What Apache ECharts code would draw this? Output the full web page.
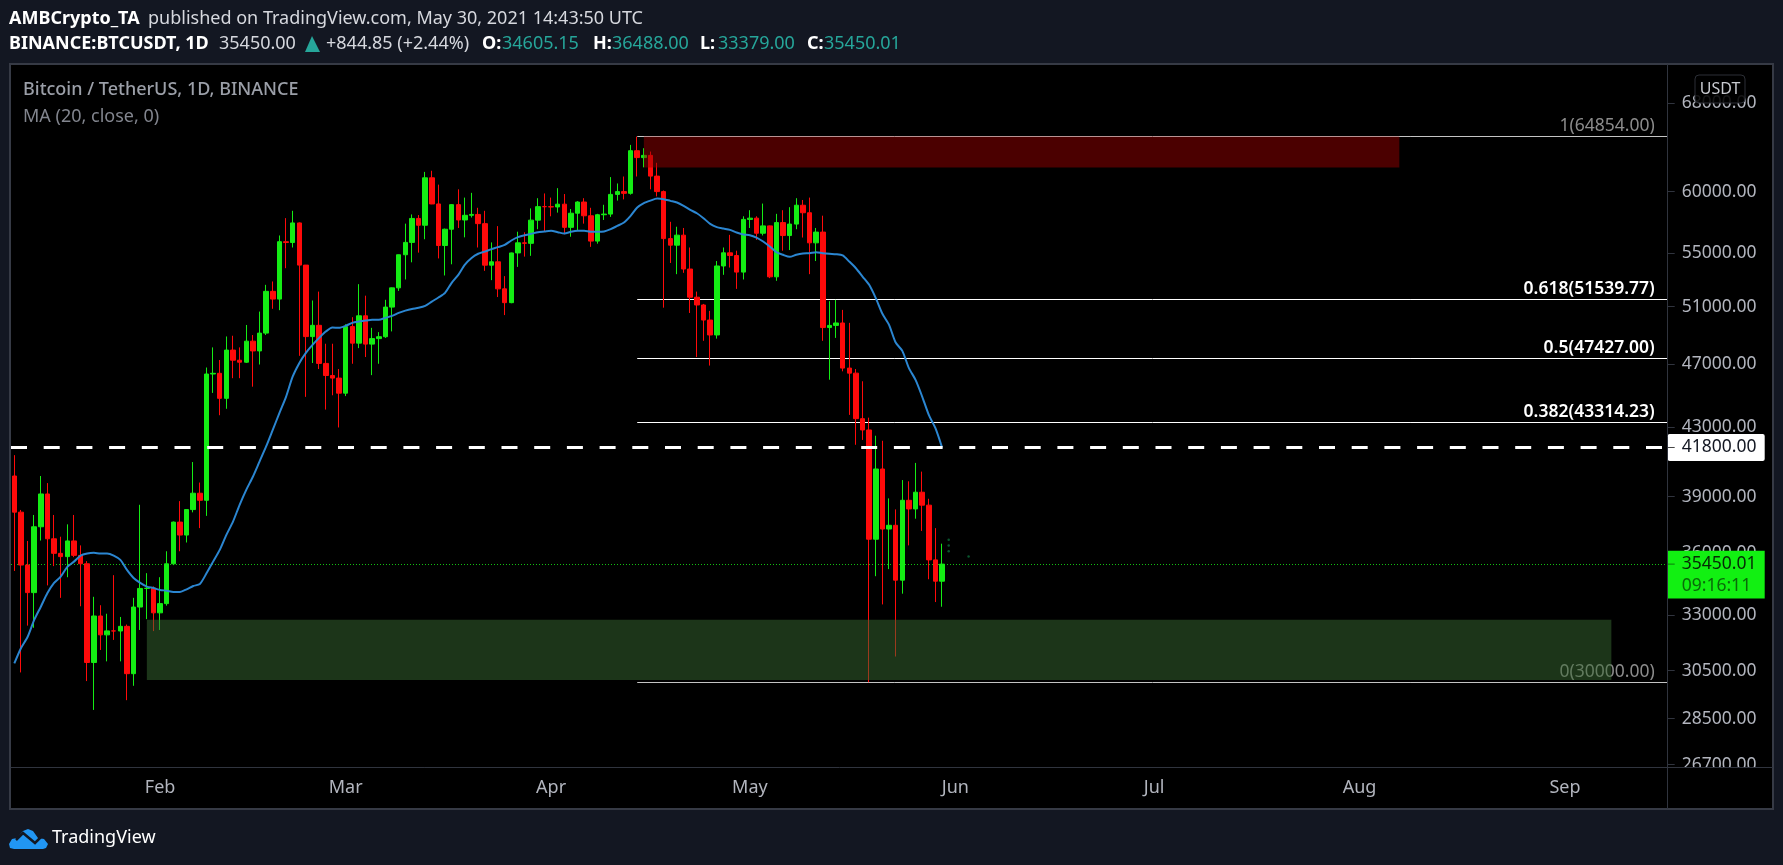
<!DOCTYPE html>
<html>
<head>
<meta charset="utf-8">
<title>BTCUSDT 1D</title>
<style>
html, body { margin: 0; padding: 0; background: #131722; }
#chart { width: 1783px; height: 865px; }
</style>
<script src="https://cdn.jsdelivr.net/npm/echarts@6/dist/echarts.min.js"></script>
</head>
<body>
<div id="chart"></div>
<script>
// daily candles from 2021-01-10
const opens = [40150,38150,35404,34051,37371,39144,36742,35994,35828,36631,35891,35468,30850,32945,32078,32259,32254,32467,30366,33364,34252,34262,
  33092,33526,35466,37618,36936,38290,39186,38795,46374,46420,44807,47969,47287,47153,48577,47911,49133,52119,51552,55906,55841,57408,54087,48891,49676,47073,46276,46106,
  45135,49587,48440,50349,48374,48751,48882,50971,52375,54884,55851,57773,57221,61188,58968,55605,56900,58912,57648,58030,58102,57351,54083,54340,52303,51293,55025,55817,55777,57635,58746,
  58740,58720,58950,57051,58202,59129,57991,55953,58077,58130,59770,60007,59860,63575,62959,63159,61334,60006,56150,55633,56425,53787,51690,51125,50047,49004,54021,55034,54824,53555,
  57697,57797,56578,57169,53200,57436,56393,57314,58862,58240,55816,56670,49519,49671,49841,46762,46431,43538,42849,36720,40550,37252,37449,34655,38796,38324,39241,38529,35663,34605.15];
const closes = [38150,35404,34051,37371,39144,36742,35994,35828,36631,35891,35468,30850,32945,32078,32259,32254,32467,30366,33364,34252,34262,33092,
  33526,35466,37618,36936,38290,39186,38795,46374,46420,44807,47969,47287,47153,48577,47911,49133,52119,51552,55906,55841,57408,54087,48891,49676,47073,46276,46106,45135,
  49587,48440,50349,48374,48751,48882,50971,52375,54884,55851,57773,57221,61188,58968,55605,56900,58912,57648,58030,58102,57351,54083,54340,52303,51293,55025,55817,55777,57635,58746,58740,
  58720,58950,57051,58202,59129,57991,55953,58077,58130,59770,60007,59860,63575,62959,63159,61334,60006,56150,55633,56425,53787,51690,51125,50047,49004,54021,55034,54824,53555,57697,
  57797,56578,57169,53200,57436,56393,57314,58862,58240,55816,56670,49519,49671,49841,46762,46431,43538,42849,36720,40550,37252,37449,34655,38796,38324,39241,38529,35663,34605,35450.01];
const highs = [41350,38270,36630,38000,40150,39750,38000,36850,37500,38000,36400,35600,33850,33450,33050,34900,32900,32550,33800,38550,35000,34350,
  34800,36100,37650,38750,38300,40950,39780,46800,48150,47300,48900,48950,48150,49700,49000,50650,52600,52850,56400,57800,58400,57450,54100,51450,52100,48400,48400,46700,
  49750,50250,52650,51800,49500,49200,51500,52400,54900,57350,58100,58050,61700,61800,60600,56950,58950,60200,59500,59900,58650,58400,55850,57150,53250,55050,56700,56650,58600,59450,59850,
  59500,60300,59800,58550,59200,59450,58650,58150,58900,61250,60700,61300,64100,64854,63800,63500,62500,60100,57500,57100,57000,55450,52100,51200,50700,54400,55450,56450,55200,57950,
  58450,57950,59000,57200,58150,58450,58700,59450,59300,59500,57000,58000,51400,51500,50770,49850,46700,45900,43600,42500,42200,38900,38300,39920,39850,40900,40400,38880,37300,36488];
const lows = [35110,30420,32500,32400,36650,34400,35350,33800,34800,35800,33400,30050,28850,31400,30900,31850,30900,29250,29850,32300,32800,32250,
  32300,33430,35400,36100,36550,38140,37300,37950,45150,43750,44150,46100,46100,47100,45550,47000,49000,50850,50750,53850,55450,47580,44900,47100,46700,44100,45000,43000,
  44950,47050,48100,47500,46300,47050,48800,49250,52150,53000,54300,55050,56100,58950,54600,53300,54150,57000,56250,57850,55450,53650,52950,51700,50400,51250,53950,54740,54800,56900,56750,
  57950,58250,56500,56300,56750,57350,55500,55750,57650,57900,59250,59350,59750,61300,62100,60200,59600,50930,54250,53400,53500,50550,47500,48600,46930,48750,53350,53900,52300,53000,
  57000,56050,56400,53100,52900,55200,55250,56900,56235,53400,54400,48600,46000,48800,46550,43770,41960,42250,30000,34850,33488,35200,31111,34000,36400,37800,37150,34700,33600,33379];
const ma20 = [30810,31480,31980,32760,33380,34030,34520,34830,35310,35575,35880,35985,36020,35985,35985,35880,35660,35160,34760,34520,34340,34270,
  34180,34145,34085,34085,34210,34370,34470,34990,35575,36168,36945,37645,38545,39370,40110,40975,41860,42854,43880,44900,46200,47090,47780,48320,48800,49240,49520,49500,
  49640,49850,49940,50010,50060,50060,50200,50340,50560,50720,50840,50920,51060,51370,51670,52010,52750,53350,54130,54640,54960,55130,55320,55480,55660,56000,56265,56425,56530,56665,56715,
  56770,56665,56550,56690,56770,56770,56690,56690,56715,56905,57170,57440,57985,58670,59035,59250,59420,59370,59225,59085,58810,58478,58200,57795,57335,57070,56955,56850,56635,56475,
  56425,56235,55920,55525,55085,54880,54720,54880,54980,55010,55085,55010,54960,54930,54830,54360,53850,53220,52600,51620,50490,49710,48480,47915,46760,45990,44920,43770,42955,41800];

const priceTicks = [68000, 60000, 55000, 51000, 47000, 43000, 39000, 36000, 33000, 30500, 28500, 26700];
const fibRatios = [1, 0.618, 0.5, 0.382, 0];
const fibPrices = [64854, 51539.77, 47427, 43314.23, 30000];
const fibStart = '2021-04-14';
const redZone = ['2021-04-15', '2021-08-07', 62080, 64854];
const greenZone = ['2021-01-30', '2021-09-08', 30100, 32770];
const resistance = 41800;
const lastPrice = 35450.01;
const ghostDates = ['2021-05-31', '2021-05-31', '2021-05-31', '2021-06-03'];
const ghostPrices = [36687, 36400, 36100, 35830];

const FONT = '"Noto Sans", sans-serif';
const UP = '#14ec14';
const DOWN = '#ff0a0a';

// calendar days, the axis runs on past the last candle
const days = [];
for (let i = 0; i < 250; i++) {
    days.push(new Date(Date.UTC(2021, 0, 10 + i)).toISOString().slice(0, 10));
}
const monthNames = { '02': 'Feb', '03': 'Mar', '04': 'Apr', '05': 'May', '06': 'Jun', '07': 'Jul', '08': 'Aug', '09': 'Sep' };
const isMonthStart = function (i, v) { return v.slice(8) === '01'; };

function txt(text, x, y, fill, font, align, z) {
    return {
        type: 'text', z: z || 100,
        style: { text: text, x: x, y: y, fill: fill, font: font, textAlign: align || 'left', textVerticalAlign: 'middle' }
    };
}

// 1px lines stay sharp on a pixel centre
function snap(v) {
    return Math.round(v - 0.5) + 0.5;
}

const sideX = 1668, frameR = 1773, frameB = 809;

const chrome = [
    { type: 'rect', z: -10, shape: { x: 10, y: 64, width: frameR - 10, height: frameB - 64 }, style: { fill: '#000', stroke: '#363a45', lineWidth: 2 } },
    // cover under the price scale, cuts the lowest tick label as in the picture
    { type: 'rect', z: 50, shape: { x: sideX + 1, y: 768, width: frameR - sideX - 2, height: frameB - 769 }, style: { fill: '#000' } },
    { type: 'line', z: 51, shape: { x1: 1023, y1: 767.5, x2: frameR, y2: 767.5 }, style: { stroke: '#30343e', lineWidth: 1 } },
    { type: 'line', z: 51, shape: { x1: sideX - 0.5, y1: 64, x2: sideX - 0.5, y2: frameB }, style: { stroke: '#30343e', lineWidth: 1 } },
    // unit badge
    { type: 'rect', z: 60, shape: { x: 1695, y: 75, width: 50, height: 28, r: 4 }, style: { fill: 'rgba(0,0,0,0.88)', stroke: '#2c2f36', lineWidth: 1 } },
    txt('USDT', 1720, 89, '#c8cad0', '16px ' + FONT, 'center', 61),
    // header
    txt('AMBCrypto_TA', 9, 19, '#ffffff', 'bold 18px ' + FONT),
    txt('published on TradingView.com, May 30, 2021 14:43:50 UTC', 148, 19, '#d6d8de', '18px ' + FONT),
    txt('BINANCE:BTCUSDT, 1D', 9, 44, '#ffffff', 'bold 18px ' + FONT),
    txt('35450.00', 219, 44, '#d6d8de', '18px ' + FONT),
    { type: 'polygon', z: 100, shape: { points: [[312, 36], [320, 52], [305, 52]] }, style: { fill: '#26a69a' } },
    txt('+844.85 (+2.44%)', 326, 44, '#d6d8de', '18px ' + FONT),
    txt('O:', 482, 44, '#ffffff', 'bold 18px ' + FONT),
    txt('34605.15', 502, 44, '#26a69a', '18px ' + FONT),
    txt('H:', 593, 44, '#ffffff', 'bold 18px ' + FONT),
    txt('36488.00', 612, 44, '#26a69a', '18px ' + FONT),
    txt('L:', 700, 44, '#ffffff', 'bold 18px ' + FONT),
    txt('33379.00', 718, 44, '#26a69a', '18px ' + FONT),
    txt('C:', 807, 44, '#ffffff', 'bold 18px ' + FONT),
    txt('35450.01', 824, 44, '#26a69a', '18px ' + FONT),
    // legend in the pane
    txt('Bitcoin / TetherUS, 1D, BINANCE', 23, 90, '#9b9fa8', '500 18px ' + FONT),
    txt('MA (20, close, 0)', 23, 117, '#82858e', '18px ' + FONT),
    // logo
    { type: 'polygon', z: 100, shape: { points: [[9, 844], [12, 839], [17, 838], [23, 831], [28, 829], [33, 831], [38, 838], [44, 839], [48, 844], [46, 848], [43, 849], [14, 849], [10, 848]] }, style: { fill: '#2196f3' } },
    { type: 'polyline', z: 101, shape: { points: [[16, 840], [23, 833], [35, 843], [42, 836]] }, style: { stroke: '#131722', lineWidth: 2.5, fill: null } },
    txt('TradingView', 52, 838, '#ffffff', '18px ' + FONT)
];

function renderZone(params, api) {
    const a = api.coord([api.value(0), api.value(1)]);
    const b = api.coord([api.value(2), api.value(3)]);
    return {
        type: 'rect',
        shape: { x: a[0], y: b[1], width: b[0] - a[0], height: a[1] - b[1] },
        style: { fill: params.seriesName === 'red zone' ? 'rgba(150,0,0,0.5)' : 'rgba(56,106,50,0.5)' }
    };
}

function renderFib(params, api) {
    const i = params.dataIndex;
    const p = api.coord([api.value(0), api.value(1)]);
    const right = params.coordSys.x + params.coordSys.width;
    const dim = fibRatios[i] === 0 || fibRatios[i] === 1;
    const y = snap(p[1]);
    return {
        type: 'group',
        children: [
            { type: 'line', shape: { x1: p[0], y1: y, x2: right, y2: y }, style: { stroke: dim ? '#c4c4c4' : '#ffffff', lineWidth: 1 } },
            {
                type: 'text',
                style: {
                    text: fibRatios[i] + '(' + fibPrices[i].toFixed(2) + ')',
                    x: right - 13, y: p[1] - 10.5, textAlign: 'right', textVerticalAlign: 'middle',
                    fill: dim ? '#8c8c8c' : '#ffffff',
                    font: (dim ? '' : '600 ') + '17.5px ' + FONT
                }
            }
        ]
    };
}

function renderLevel(params, api) {
    const p = api.coord([0, api.value(1)]);
    const left = params.coordSys.x;
    const right = left + params.coordSys.width;
    const isLast = params.seriesName === 'last price';
    const y = isLast ? snap(p[1]) : p[1];
    return {
        type: 'line',
        shape: { x1: left, y1: y, x2: right, y2: y },
        style: isLast
            ? { stroke: '#12c012', lineWidth: 1, lineDash: [1, 2] }
            : { stroke: '#ffffff', lineWidth: 3, lineDash: [16, 16.7] }
    };
}

function renderResistanceTag(params, api) {
    const p = api.coord([0, api.value(1)]);
    const right = params.coordSys.x + params.coordSys.width;
    return {
        type: 'group',
        children: [
            { type: 'rect', shape: { x: right, y: p[1] - 13.5, width: 97, height: 27, r: 2 }, style: { fill: '#ffffff' } },
            { type: 'line', shape: { x1: right, y1: p[1], x2: right + 7, y2: p[1] }, style: { stroke: '#444', lineWidth: 1 } },
            { type: 'text', style: { text: api.value(1).toFixed(2), x: right + 14, y: p[1], textVerticalAlign: 'middle', fill: '#131722', font: '17.5px ' + FONT } }
        ]
    };
}

function renderLastTag(params, api) {
    const p = api.coord([0, api.value(1)]);
    const right = params.coordSys.x + params.coordSys.width;
    return {
        type: 'group',
        children: [
            { type: 'rect', shape: { x: right, y: p[1] - 13.3, width: 97, height: 47.7 }, style: { fill: '#12f012' } },
            { type: 'line', shape: { x1: right, y1: p[1], x2: right + 7, y2: p[1] }, style: { stroke: '#0a7a0a', lineWidth: 1 } },
            { type: 'text', style: { text: api.value(1).toFixed(2), x: right + 14, y: p[1], textVerticalAlign: 'middle', fill: '#062a06', font: '17.5px ' + FONT } },
            { type: 'text', style: { text: '09:16:11', x: right + 14, y: p[1] + 22, textVerticalAlign: 'middle', fill: '#0a6a0a', font: '17.5px ' + FONT } }
        ]
    };
}

const myChart = echarts.init(document.getElementById('chart'));
myChart.setOption({
    animation: false,
    backgroundColor: '#131722',
    graphic: chrome,
    grid: { left: 11, top: 65, width: 1656.7, height: 702, containLabel: false },
    xAxis: {
        type: 'category',
        data: days,
        boundaryGap: true,
        axisLine: { lineStyle: { color: '#30343e' } },
        axisTick: { interval: isMonthStart, alignWithLabel: true, length: 7, lineStyle: { color: '#30343e' } },
        axisLabel: {
            interval: isMonthStart,
            margin: 12,
            color: '#b2b5be',
            fontFamily: FONT,
            fontSize: 18,
            formatter: function (v) { return monthNames[v.slice(5, 7)]; }
        },
        splitLine: { show: false }
    },
    yAxis: {
        type: 'log',
        position: 'right',
        min: 26615,
        max: 71760,
        axisLine: { show: true, lineStyle: { color: '#30343e' } },
        axisTick: { show: true, customValues: priceTicks, length: 7, lineStyle: { color: '#30343e' } },
        minorTick: { show: false },
        axisLabel: {
            customValues: priceTicks,
            margin: 14,
            color: '#b2b5be',
            fontFamily: FONT,
            fontSize: 17.5,
            formatter: function (v) { return Number(v).toFixed(2); }
        },
        splitLine: { show: false }
    },
    series: [
        {
            name: 'BTCUSDT',
            type: 'candlestick',
            z: 3,
            barWidth: 5,
            data: opens.map(function (o, i) { return [o, closes[i], lows[i], highs[i]]; }),
            itemStyle: { color: UP, color0: DOWN, borderColor: UP, borderColor0: DOWN, borderWidth: 1 }
        },
        {
            name: 'MA (20, close, 0)',
            type: 'line',
            z: 4,
            data: ma20,
            showSymbol: false,
            smooth: 0.25,
            lineStyle: { color: '#2b86d1', width: 2 }
        },
        {
            name: 'ghost',
            type: 'scatter',
            z: 4,
            symbolSize: 2.5,
            data: ghostDates.map(function (d, i) { return [d, ghostPrices[i]]; }),
            itemStyle: { color: '#0b6a38' }
        },
        {
            name: 'fib',
            type: 'custom',
            z: 2,
            renderItem: renderFib,
            encode: { x: 0, y: 1 },
            data: fibPrices.map(function (p) { return [days.indexOf(fibStart), p]; })
        },
        {
            name: 'red zone',
            type: 'custom',
            z: 5,
            renderItem: renderZone,
            encode: { x: [0, 2], y: [1, 3] },
            data: [[days.indexOf(redZone[0]), redZone[2], days.indexOf(redZone[1]), redZone[3]]]
        },
        {
            name: 'green zone',
            type: 'custom',
            z: 5,
            renderItem: renderZone,
            encode: { x: [0, 2], y: [1, 3] },
            data: [[days.indexOf(greenZone[0]), greenZone[2], days.indexOf(greenZone[1]), greenZone[3]]]
        },
        {
            name: 'last price',
            type: 'custom',
            z: 2,
            renderItem: renderLevel,
            encode: { x: 0, y: 1 },
            data: [[0, lastPrice]]
        },
        {
            name: 'resistance',
            type: 'custom',
            z: 6,
            renderItem: renderLevel,
            encode: { x: 0, y: 1 },
            data: [[0, resistance]]
        },
        {
            name: 'resistance tag',
            type: 'custom',
            z: 7,
            renderItem: renderResistanceTag,
            encode: { x: 0, y: 1 },
            data: [[0, resistance]]
        },
        {
            name: 'last tag',
            type: 'custom',
            z: 7,
            renderItem: renderLastTag,
            encode: { x: 0, y: 1 },
            data: [[0, lastPrice]]
        }
    ]
});
</script>
</body>
</html>
